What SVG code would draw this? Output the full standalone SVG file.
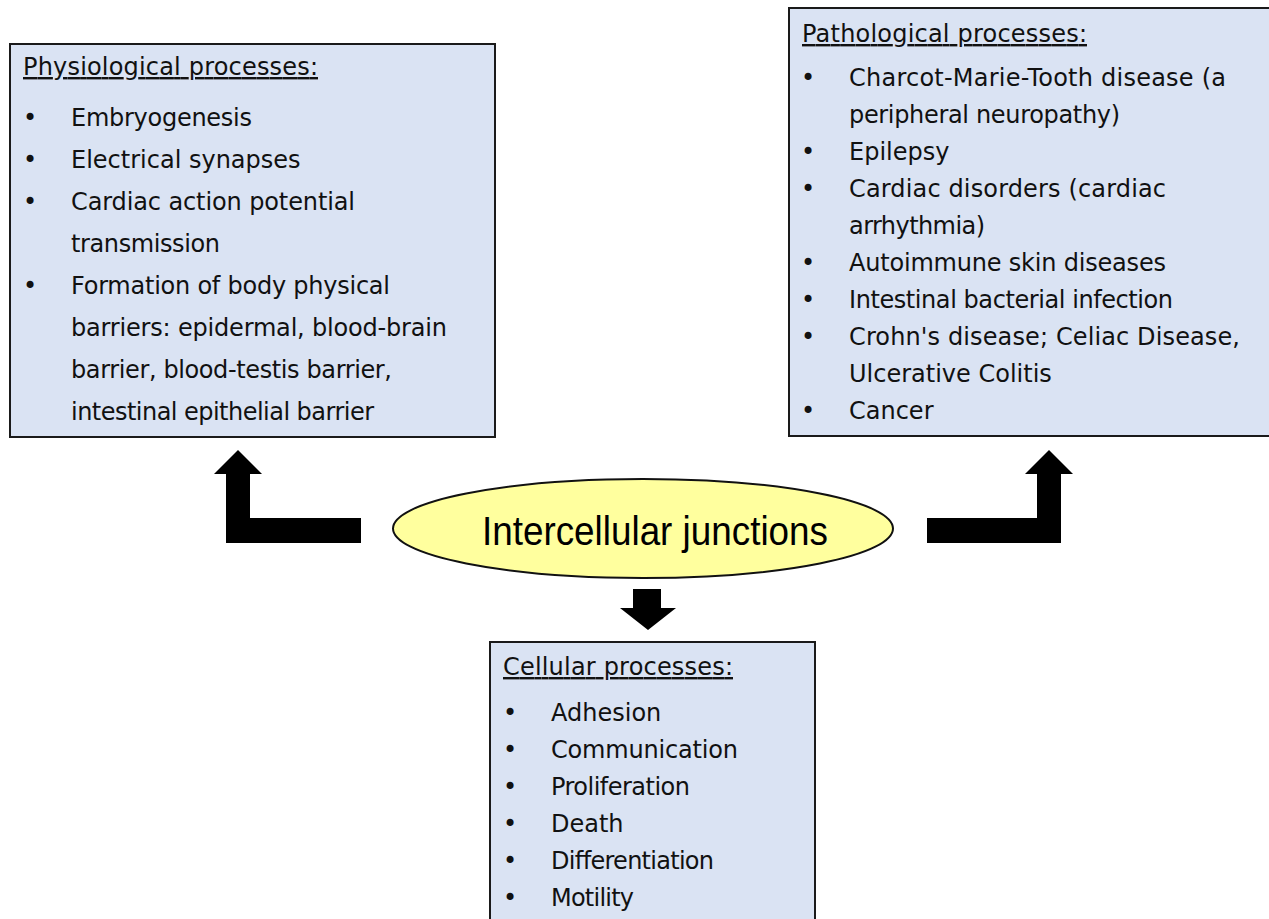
<svg xmlns="http://www.w3.org/2000/svg" width="1269" height="919" viewBox="0 0 1269 919">
<style>
.box{fill:#dae3f3;stroke:#1a1a1a;stroke-width:2}
.t{font-family:"DejaVu Sans",sans-serif;font-size:24px;fill:#111}
.h{font-family:"DejaVu Sans",sans-serif;font-size:24px;fill:#111;text-decoration:underline}
.arrow{fill:#000}
</style>
<rect width="1269" height="919" fill="#fff"/>
<g id="connectors">
<polygon class="arrow" points="361,518 361,543 226,543 226,474 214,474 238,450 262,474 250,474 250,518"/>
<polygon class="arrow" points="927,518 927,543 1061,543 1061,474 1073,474 1049,450 1025,474 1037,474 1037,518"/>
<polygon class="arrow" points="633,589 661,589 661,608 676,608 648,630 620,608 633,608"/>
</g>
<g id="physiological">
<rect class="box" x="10" y="44" width="485" height="393"/>
<text class="h" x="23" y="75" textLength="295">Physiological processes:</text>
<g class="t">
<text x="23" y="126">•</text><text x="71" y="126" textLength="181">Embryogenesis</text>
<text x="23" y="168">•</text><text x="71" y="168">Electrical synapses</text>
<text x="23" y="210">•</text><text x="71" y="210" textLength="284">Cardiac action potential</text>
<text x="71" y="252" textLength="149">transmission</text>
<text x="23" y="294">•</text><text x="71" y="294" textLength="319">Formation of body physical</text>
<text x="71" y="336" textLength="376">barriers: epidermal, blood-brain</text>
<text x="71" y="378" textLength="321">barrier, blood-testis barrier,</text>
<text x="71" y="420" textLength="303">intestinal epithelial barrier</text>
</g>
</g>
<g id="pathological">
<rect class="box" x="789" y="8" width="490" height="428"/>
<text class="h" x="802" y="42" textLength="285">Pathological processes:</text>
<g class="t">
<text x="801" y="86">•</text><text x="849" y="86" textLength="377">Charcot-Marie-Tooth disease (a</text>
<text x="849" y="123" textLength="271">peripheral neuropathy)</text>
<text x="801" y="160">•</text><text x="849" y="160">Epilepsy</text>
<text x="801" y="197">•</text><text x="849" y="197" textLength="317">Cardiac disorders (cardiac</text>
<text x="849" y="234" textLength="136">arrhythmia)</text>
<text x="801" y="271">•</text><text x="849" y="271" textLength="317">Autoimmune skin diseases</text>
<text x="801" y="308">•</text><text x="849" y="308" textLength="324">Intestinal bacterial infection</text>
<text x="801" y="345">•</text><text x="849" y="345" textLength="391">Crohn's disease; Celiac Disease,</text>
<text x="849" y="382">Ulcerative Colitis</text>
<text x="801" y="419">•</text><text x="849" y="419">Cancer</text>
</g>
</g>
<g id="junctions">
<ellipse cx="643" cy="528.5" rx="250" ry="49.5" fill="#ffff9e" stroke="#111" stroke-width="2"/>
<text x="482" y="545" font-family="Liberation Sans, Arial, sans-serif" font-size="41" fill="#000" textLength="346" lengthAdjust="spacingAndGlyphs">Intercellular junctions</text>
</g>
<g id="cellular">
<rect class="box" x="490" y="642" width="325" height="290"/>
<text class="h" x="503" y="675" textLength="230">Cellular processes:</text>
<g class="t">
<text x="503" y="721">•</text><text x="551" y="721">Adhesion</text>
<text x="503" y="758">•</text><text x="551" y="758" textLength="187">Communication</text>
<text x="503" y="795">•</text><text x="551" y="795" textLength="139">Proliferation</text>
<text x="503" y="832">•</text><text x="551" y="832">Death</text>
<text x="503" y="869">•</text><text x="551" y="869" textLength="163">Differentiation</text>
<text x="503" y="906">•</text><text x="551" y="906" textLength="83">Motility</text>
</g>
</g>
</svg>
